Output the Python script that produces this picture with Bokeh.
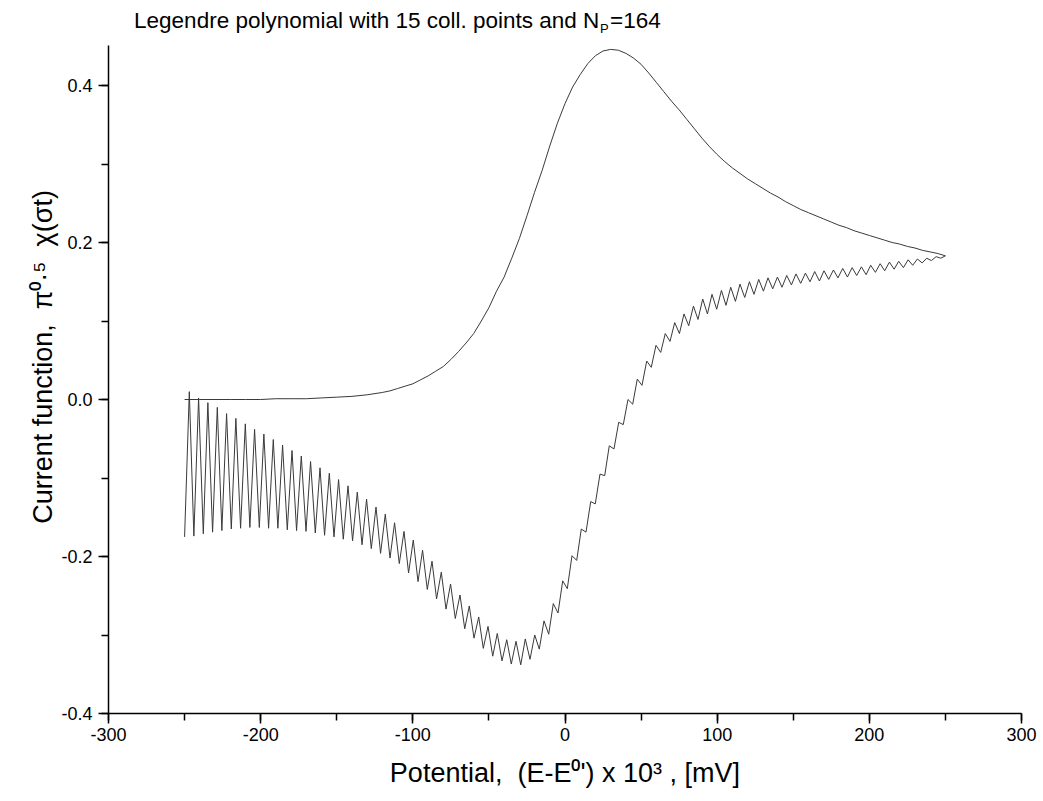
from bokeh.plotting import figure
from bokeh.models import SingleIntervalTicker, PrintfTickFormatter, Label
from bokeh.embed import file_html
from bokeh.resources import INLINE

# ---------------- data ----------------
# forward (oxidation) scan, potential in mV
fwd_E = [-250, -240, -230, -220, -210, -200, -190, -180, -170, -160, -150, -140, -130,
         -120, -115, -110, -105, -100, -95, -90, -85, -80, -75, -70, -65, -60, -55, -50,
         -45, -40, -35, -30, -25, -20, -15, -10, -5, 0, 5, 10, 15, 20, 25, 30, 35, 40, 45,
         50, 55, 60, 65, 70, 75, 80, 85, 90, 95, 100, 105, 110, 115, 120, 125, 130, 135,
         140, 145, 150, 155, 160, 165, 170, 175, 180, 185, 190, 195, 200, 205, 210, 215,
         220, 225, 230, 235, 240, 245, 250]
fwd_I = [0.000, 0.000, 0.000, 0.000, 0.000, 0.000, 0.001, 0.001, 0.001, 0.002, 0.003, 0.004,
         0.006, 0.009, 0.011, 0.014, 0.017, 0.020, 0.025, 0.030, 0.036, 0.042, 0.051, 0.061,
         0.072, 0.084, 0.100, 0.117, 0.138, 0.156, 0.180, 0.205, 0.234, 0.264, 0.292, 0.323,
         0.352, 0.377, 0.398, 0.414, 0.428, 0.438, 0.444, 0.446, 0.445, 0.441, 0.435, 0.427,
         0.416, 0.404, 0.392, 0.380, 0.369, 0.357, 0.345, 0.333, 0.322, 0.312, 0.303, 0.295,
         0.288, 0.281, 0.275, 0.269, 0.263, 0.258, 0.252, 0.247, 0.242, 0.238, 0.234, 0.230,
         0.226, 0.222, 0.219, 0.215, 0.212, 0.209, 0.206, 0.203, 0.200, 0.198, 0.195, 0.193,
         0.190, 0.188, 0.186, 0.183]

# reverse scan (164 points, oscillating solution)
rev_E = [250.0, 246.9, 243.9, 240.8, 237.7, 234.7, 231.6, 228.5, 225.5, 222.4, 219.3, 216.3,
         213.2, 210.1, 207.1, 204.0, 200.9, 197.9, 194.8, 191.7, 188.7, 185.6, 182.5, 179.4,
         176.4, 173.3, 170.2, 167.2, 164.1, 161.0, 158.0, 154.9, 151.8, 148.8, 145.7, 142.6,
         139.6, 136.5, 133.4, 130.4, 127.3, 124.2, 121.2, 118.1, 115.0, 112.0, 108.9, 105.8,
         102.8, 99.7, 96.6, 93.6, 90.5, 87.4, 84.4, 81.3, 78.2, 75.2, 72.1, 69.0, 65.9, 62.9,
         59.8, 56.7, 53.7, 50.6, 47.5, 44.5, 41.4, 38.3, 35.3, 32.2, 29.1, 26.1, 23.0, 19.9,
         16.9, 13.8, 10.7, 7.7, 4.6, 1.5, -1.5, -4.6, -7.7, -10.7, -13.8, -16.9, -19.9, -23.0,
         -26.1, -29.1, -32.2, -35.3, -38.3, -41.4, -44.5, -47.5, -50.6, -53.7, -56.7, -59.8,
         -62.9, -65.9, -69.0, -72.1, -75.2, -78.2, -81.3, -84.4, -87.4, -90.5, -93.6, -96.6,
         -99.7, -102.8, -105.8, -108.9, -112.0, -115.0, -118.1, -121.2, -124.2, -127.3, -130.4,
         -133.4, -136.5, -139.6, -142.6, -145.7, -148.8, -151.8, -154.9, -158.0, -161.0,
         -164.1, -167.2, -170.2, -173.3, -176.4, -179.4, -182.5, -185.6, -188.7, -191.7,
         -194.8, -197.9, -200.9, -204.0, -207.1, -210.1, -213.2, -216.3, -219.3, -222.4,
         -225.5, -228.5, -231.6, -234.7, -237.7, -240.8, -243.9, -246.9, -250.0]
rev_I = [0.183, 0.180, 0.182, 0.177, 0.180, 0.174, 0.179, 0.171, 0.178, 0.168, 0.176, 0.166,
         0.175, 0.164, 0.173, 0.162, 0.171, 0.159, 0.169, 0.158, 0.168, 0.156, 0.167, 0.155,
         0.165, 0.153, 0.164, 0.151, 0.163, 0.150, 0.161, 0.148, 0.160, 0.146, 0.158, 0.143,
         0.156, 0.141, 0.155, 0.138, 0.153, 0.134, 0.150, 0.130, 0.147, 0.125, 0.143, 0.120,
         0.139, 0.115, 0.134, 0.109, 0.128, 0.102, 0.119, 0.094, 0.109, 0.084, 0.098, 0.074,
         0.084, 0.060, 0.069, 0.041, 0.049, 0.018, 0.026, -0.006, 0.000, -0.032, -0.029,
         -0.063, -0.059, -0.097, -0.095, -0.133, -0.130, -0.169, -0.165, -0.205, -0.199,
         -0.241, -0.231, -0.272, -0.260, -0.299, -0.282, -0.318, -0.300, -0.331, -0.305,
         -0.338, -0.308, -0.337, -0.306, -0.333, -0.298, -0.327, -0.289, -0.317, -0.277,
         -0.304, -0.263, -0.292, -0.249, -0.279, -0.235, -0.267, -0.220, -0.254, -0.206,
         -0.242, -0.192, -0.232, -0.179, -0.221, -0.168, -0.209, -0.157, -0.202, -0.146,
         -0.196, -0.137, -0.190, -0.127, -0.185, -0.118, -0.180, -0.110, -0.178, -0.102,
         -0.175, -0.094, -0.173, -0.087, -0.170, -0.079, -0.168, -0.072, -0.167, -0.065,
         -0.166, -0.058, -0.164, -0.051, -0.164, -0.044, -0.163, -0.038, -0.163, -0.031,
         -0.164, -0.024, -0.165, -0.018, -0.167, -0.010, -0.169, -0.004, -0.171, 0.002,
         -0.174, 0.010, -0.175]

NB = "\u00a0"
title_main = "Legendre polynomial with 15 coll. points and N"
title_sub = "P"
title_tail = "=164"
x_label = "Potential," + NB * 2 + "(E-E\u2070')" + NB + "x" + NB + "10\u00b3" + NB + "," + NB + "[mV]"
y_label = "Current function," + NB * 2 + "\u03c0\u2070\u00b7\u2075" + NB * 2 + "\u03c7(\u03c3t)"

FONT = "Liberation Sans"
Y_TOP = 0.5083     # frame extends to the top edge so the title can sit inside it
AXIS_TOP = 0.451

p = figure(width=1043, height=801, x_range=(-300, 300), y_range=(-0.4, Y_TOP),
           output_backend="svg", toolbar_location=None,
           min_border_left=108, min_border_right=22, min_border_top=0, min_border_bottom=88)
p.outline_line_color = None
p.grid.visible = False
p.background_fill_color = "white"
p.border_fill_color = "white"

p.line(fwd_E, fwd_I, line_color="#3a3a3a", line_width=1)
p.line(rev_E, rev_I, line_color="#3a3a3a", line_width=1)

p.xaxis.ticker = SingleIntervalTicker(interval=100, num_minor_ticks=2)
p.yaxis.ticker = SingleIntervalTicker(interval=0.2, num_minor_ticks=2)
p.xaxis.formatter = PrintfTickFormatter(format="%d")
p.yaxis.formatter = PrintfTickFormatter(format="%.1f")
p.yaxis.bounds = (-0.4, AXIS_TOP)

for ax in (p.xaxis[0], p.yaxis[0]):
    ax.axis_line_color = "black"
    ax.axis_line_width = 1.5
    ax.major_tick_line_color = "black"
    ax.major_tick_line_width = 1.5
    ax.minor_tick_line_color = "black"
    ax.minor_tick_line_width = 1.5
    ax.major_tick_in = 0
    ax.major_tick_out = 10
    ax.minor_tick_in = 0
    ax.minor_tick_out = 7
    ax.major_label_text_font = FONT
    ax.major_label_text_font_size = "18px"
    ax.major_label_text_color = "black"
    ax.axis_label_text_font = FONT
    ax.axis_label_text_font_size = "27px"
    ax.axis_label_text_font_style = "normal"
    ax.axis_label_text_color = "black"

p.xaxis.axis_label = x_label
p.yaxis.axis_label = y_label
p.xaxis.major_label_standoff = 4
p.xaxis.axis_label_standoff = 14
p.yaxis.major_label_standoff = 6
p.yaxis.axis_label_standoff = 0

t1 = Label(x=-283.2, y=0.4828, text=title_main, text_font=FONT, text_font_size="22.5px",
           text_baseline="middle", text_color="black")
p.add_layout(t1)
t2 = Label(x=23.0, y=0.4725, text=title_sub, text_font=FONT,
           text_font_size="13px", text_baseline="middle", text_color="black")
p.add_layout(t2)
t3 = Label(x=29.6, y=0.4828, text=title_tail, text_font=FONT,
           text_font_size="22.5px", text_baseline="middle", text_color="black")
p.add_layout(t3)

open("out.html", "w").write(file_html(p, INLINE))
